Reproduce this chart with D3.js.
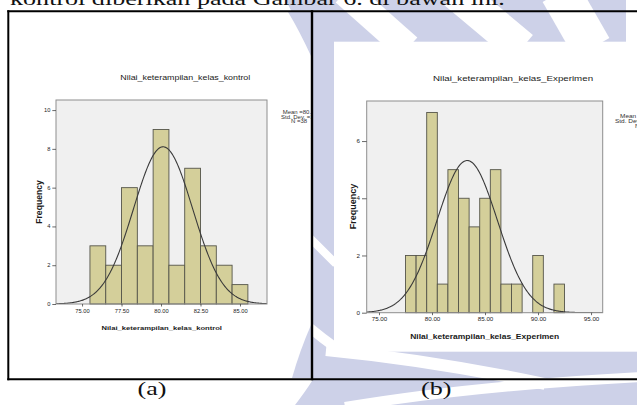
<!DOCTYPE html>
<html><head><meta charset="utf-8">
<script src="https://cdn.jsdelivr.net/npm/d3@7"></script>
<style>html,body{margin:0;padding:0;background:#fff;overflow:hidden}</style>
</head><body>
<svg id="c" width="637" height="405" xmlns="http://www.w3.org/2000/svg"></svg>
<script>
// ---------------- DATA ----------------
const binsKontrol = [76, 77, 78, 79, 80, 81, 82, 83, 84, 85];
const freqKontrol = [3, 2, 6, 3, 9, 2, 7, 3, 2, 1];
const xTicksKontrol = [75, 77.5, 80, 82.5, 85];
const yTicksKontrol = [0, 2, 4, 6, 8, 10];
const curveKontrol = [80.13, 1.87, 38];          // mean, sd, N
const legendKontrol = ["Mean =80.13", "Std. Dev. =1.87", "N =38"];
const titleKontrol = "Nilai_keterampilan_kelas_kontrol";

const binsEksperimen = [78, 79, 80, 81, 82, 83, 84, 85, 86, 87, 88, 89, 90, 91, 92];
const freqEksperimen = [2, 2, 7, 1, 5, 4, 3, 4, 5, 1, 1, 0, 2, 0, 1];
const xTicksEksperimen = [75, 80, 85, 90, 95];
const yTicksEksperimen = [0, 2, 4, 6];
const curveEksperimen = [83.32, 2.85, 38];
const legendEksperimen = ["Mean =83.32", "Std. Dev. =2.85", "N =38"];
const titleEksperimen = "Nilai_keterampilan_kelas_Experimen";

const topText = "kontrol diberikan pada Gambar 6. di bawah ini.";
const captions = ["(a)", "(b)"];

// ---------------- DRAW ----------------
const svg = d3.select("#c");
const LAV = "#cdd1e8";
const SANS = "'Liberation Sans', Arial, sans-serif";
const SERIF = "'Liberation Serif', 'Times New Roman', serif";

svg.append("rect").attr("width", 637).attr("height", 405).attr("fill", "#fff");

// watermark
const wm = svg.append("g");
wm.append("rect").attr("x", 312).attr("y", 0).attr("width", 325).attr("height", 405).attr("fill", LAV);
const carve = [
  ["M345,-8 L408,48", 28],
  ["M455,-8 L522,48", 34],
  ["M560,-8 L592,48", 40],
  ["M632,-8 L632,48", 12],
  ["M310,238 Q322,250 336,264", 8],
  ["M310,328 Q322,338 336,348", 10],
  ["M326,350 Q430,360 545,384", 12],
  ["M345,407 Q470,386 640,377", 10]
];
carve.forEach(([d, w]) => wm.append("path").attr("d", d).attr("fill", "none")
  .attr("stroke", "#fff").attr("stroke-width", w));
wm.append("path").attr("d", "M295,405 Q305,392 312,381 L312,405 Z").attr("fill", LAV);
wm.append("path").attr("d", "M286,0 L312,0 L312,58 Q300,28 286,0 Z").attr("fill", LAV);

// chart images
svg.append("rect").attr("x", 9).attr("y", 12).attr("width", 302).attr("height", 366).attr("fill", "#fff");
svg.append("path").attr("d", "M288,12 L311,12 L311,56 Q299,30 288,12 Z").attr("fill", LAV);
svg.append("path").attr("d", "M311,325 Q300,350 292,378 L311,378 Z").attr("fill", LAV);
svg.append("rect").attr("x", 334).attr("y", 41.7).attr("width", 303).attr("height", 310).attr("fill", "#fff");

function stext(g, x, y, str, size, opts = {}) {
  const sx = opts.sx || 1.25;
  return g.append("text")
    .attr("transform", `translate(${x},${y}) scale(${sx},1)`)
    .attr("text-anchor", opts.anchor || "middle")
    .attr("dominant-baseline", "central")
    .attr("font-family", SANS)
    .attr("font-size", size)
    .attr("font-weight", opts.bold ? "bold" : "normal")
    .attr("fill", opts.fill || "#1a1a1a")
    .text(str);
}

function histogram(cfg) {
  const g = svg.append("g");
  const x = d3.scaleLinear().domain(cfg.xDomain).range([cfg.x0, cfg.x1]);
  const y = d3.scaleLinear().domain(cfg.yDomain).range([cfg.y1, cfg.y0]);
  g.append("rect").attr("x", cfg.x0).attr("y", cfg.y0)
    .attr("width", cfg.x1 - cfg.x0).attr("height", cfg.y1 - cfg.y0)
    .attr("fill", "#f0f0f0");
  const clipId = "clip" + cfg.id;
  g.append("clipPath").attr("id", clipId).append("rect")
    .attr("x", cfg.x0).attr("y", cfg.y0).attr("width", cfg.x1 - cfg.x0).attr("height", cfg.y1 - cfg.y0);

  g.append("g").selectAll("rect")
    .data(cfg.bins.map((b, i) => ({b, f: cfg.freq[i]})).filter(d => d.f > 0))
    .join("rect")
    .attr("x", d => x(d.b - 0.5)).attr("width", d => x(d.b + 0.5) - x(d.b - 0.5))
    .attr("y", d => y(d.f)).attr("height", d => y(0) - y(d.f))
    .attr("fill", "#d4cf9a").attr("stroke", "#55554a").attr("stroke-width", 0.9);

  const [m, s, n] = cfg.curve;
  const pts = d3.range(0, 301).map(i => {
    const v = cfg.xDomain[0] + (cfg.xDomain[1] - cfg.xDomain[0]) * i / 300;
    return [v, n * Math.exp(-0.5 * ((v - m) / s) ** 2) / (s * Math.sqrt(2 * Math.PI))];
  });
  g.append("path").attr("clip-path", `url(#${clipId})`)
    .attr("d", d3.line().x(d => x(d[0])).y(d => y(d[1]))(pts))
    .attr("fill", "none").attr("stroke", "#3a3a3a").attr("stroke-width", 1.1);

  g.append("rect").attr("x", cfg.x0).attr("y", cfg.y0)
    .attr("width", cfg.x1 - cfg.x0).attr("height", cfg.y1 - cfg.y0)
    .attr("fill", "none").attr("stroke", "#8e8e8e").attr("stroke-width", 1);

  const ya = g.append("g").attr("transform", `translate(${cfg.x0},0)`)
    .call(d3.axisLeft(y).tickValues(cfg.yTicks).tickSize(cfg.yTick).tickPadding(1).tickFormat(d3.format("d")));
  ya.select(".domain").remove();
  ya.selectAll("line").attr("stroke", "#444").attr("stroke-width", 0.8);
  ya.selectAll("text").attr("font-family", SANS).attr("font-size", cfg.tickSize)
    .attr("fill", "#222").attr("transform", "scale(1.2,1)");

  const xa = g.append("g").attr("transform", `translate(0,${cfg.y1})`)
    .call(d3.axisBottom(x).tickValues(cfg.xTicks).tickSize(2.5).tickPadding(1).tickFormat(d3.format(".2f")));
  xa.select(".domain").remove();
  xa.selectAll("line").attr("stroke", "#444").attr("stroke-width", 0.8);
  xa.selectAll("text").attr("font-family", SANS).attr("font-size", cfg.tickSize)
    .attr("fill", "#222").attr("y", cfg.xLabOff).attr("dy", "0.35em").attr("transform", "scale(1.2,1)");

  stext(g, cfg.title[0], cfg.title[1], cfg.titleText, cfg.titleSize);
  stext(g, cfg.xt[0], cfg.xt[1], cfg.titleText, cfg.xtSize, {bold: true});
  g.append("text").attr("transform", `translate(${cfg.yt[0]},${cfg.yt[1]}) rotate(-90)`)
    .attr("text-anchor", "middle").attr("dominant-baseline", "central")
    .attr("font-family", SANS).attr("font-size", cfg.ytSize).attr("font-weight", "bold")
    .attr("fill", "#1a1a1a").text("Frequency");

  const lg = g.append("g");
  if (cfg.legClip) {
    const lid = "lc" + cfg.id;
    g.append("clipPath").attr("id", lid).append("rect").attr("x", 0).attr("y", 0)
      .attr("width", cfg.legClip).attr("height", 405);
    lg.attr("clip-path", `url(#${lid})`);
  }
  cfg.legend.forEach((t, i) => stext(lg, cfg.legX[i], cfg.legY[i], t, cfg.legSize,
    {anchor: "start", sx: 1.3, fill: "#333"}));
}

histogram({
  id: "k", bins: binsKontrol, freq: freqKontrol, curve: curveKontrol,
  xTicks: xTicksKontrol, yTicks: yTicksKontrol, legend: legendKontrol, titleText: titleKontrol,
  x0: 56, x1: 267, y0: 100, y1: 304, xDomain: [73.35, 86.71], yDomain: [0, 10.52],
  yTick: 3.7, tickSize: 4.8, xLabOff: 7.5,
  title: [185.3, 77.3], titleSize: 7.1,
  xt: [161.7, 327.7], xtSize: 6.1,
  yt: [39, 202], ytSize: 8.6,
  legX: [282.7, 281, 291], legY: [112.7, 117.1, 121.5], legSize: 4.6, legClip: 311
});

histogram({
  id: "e", bins: binsEksperimen, freq: freqEksperimen, curve: curveEksperimen,
  xTicks: xTicksEksperimen, yTicks: yTicksEksperimen, legend: legendEksperimen, titleText: titleEksperimen,
  x0: 366.7, x1: 602.7, y0: 101, y1: 312.7, xDomain: [73.84, 96.1], yDomain: [0, 7.4],
  yTick: 4.7, tickSize: 5.2, xLabOff: 6,
  title: [513, 78.3], titleSize: 7.8,
  xt: [484.7, 336.7], xtSize: 6.8,
  yt: [352.7, 206.5], ytSize: 9,
  legX: [620, 615, 635], legY: [116.7, 121.3, 125.9], legSize: 5, legClip: null
});

// table borders
const tb = svg.append("g").attr("stroke", "#000").attr("stroke-width", 2);
tb.append("line").attr("x1", 7.3).attr("x2", 637).attr("y1", 11.3).attr("y2", 11.3);
tb.append("line").attr("x1", 7.3).attr("x2", 637).attr("y1", 379.3).attr("y2", 379.3);
tb.append("line").attr("x1", 8.3).attr("x2", 8.3).attr("y1", 10.3).attr("y2", 380.3);
tb.append("line").attr("x1", 312).attr("x2", 312).attr("y1", 10.3).attr("y2", 380.3).attr("stroke-width", 2.4);

// serif document text
function serif(x, y, str, anchor) {
  svg.append("text").attr("transform", `translate(${x},${y}) scale(1.45,1)`)
    .attr("text-anchor", anchor).attr("font-family", SERIF).attr("font-size", 18)
    .attr("fill", "#111").text(str);
}
serif(10, 5, topText, "start");
serif(152, 394.5, captions[0], "middle");
serif(436.3, 394.5, captions[1], "middle");
</script>
</body></html>
